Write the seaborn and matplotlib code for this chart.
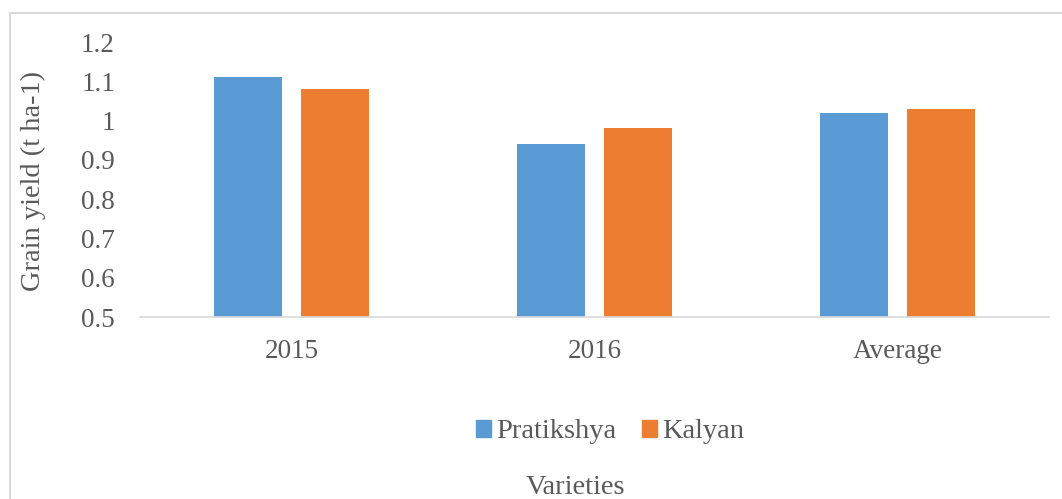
import matplotlib
matplotlib.use("Agg")
import matplotlib.pyplot as plt
import matplotlib.patches as mpatches
import pandas as pd
import seaborn as sns

# data
years = ["2015", "2016", "Average"]
pratikshya = [1.11, 0.94, 1.02]
kalyan = [1.08, 0.98, 1.03]
varieties = ["Pratikshya", "Kalyan"]
colors = ["#5B9BD5", "#ED7D31"]

df = pd.DataFrame({
    "year": years * 2,
    "variety": [varieties[0]] * 3 + [varieties[1]] * 3,
    "yield": pratikshya + kalyan,
})

sns.set_style("white")
plt.rcParams["font.family"] = ["Liberation Serif", "DejaVu Serif"]
text_col = "#595959"

fig = plt.figure(figsize=(10.62, 4.99), dpi=100)
ax = fig.add_axes([0.1318, 0.3647, 0.8560, 0.5511])

sns.barplot(data=df, x="year", y="yield", hue="variety", order=years,
            hue_order=varieties, palette=colors, saturation=1,
            width=0.574, gap=0.22, ax=ax, legend=False, edgecolor="none")

ax.set_ylim(0.5, 1.2)
ax.set_yticks([0.5, 0.6, 0.7, 0.8, 0.9, 1.0, 1.1, 1.2])
ax.set_yticklabels(["0.5", "0.6", "0.7", "0.8", "0.9", "1", "1.1", "1.2"])
ax.tick_params(axis="both", length=0, labelsize=19.5, colors=text_col)
ax.tick_params(axis="x", pad=16)
ax.tick_params(axis="y", pad=18)
ax.set_xlabel("")
ax.set_ylabel("")
fig.text(33 / 1062, 1 - 181 / 499, "Grain yield (t ha-1)", rotation=90,
         ha="center", va="center", fontsize=20.5, color=text_col)

for side in ["top", "right", "left"]:
    ax.spines[side].set_visible(False)
ax.spines["bottom"].set_color("#d9d9d9")
ax.spines["bottom"].set_linewidth(1.2)

# legend and axis title under the plot
handles = [mpatches.Patch(color=c, label=v) for c, v in zip(colors, varieties)]
fig.legend(handles=handles, loc="center", bbox_to_anchor=(610 / 1062, 1 - 432 / 499),
           ncol=2, frameon=False, fontsize=20.5, handlelength=0.53, handleheight=0.53,
           handletextpad=0.18, columnspacing=0.88, labelcolor=text_col,
           borderpad=0)
fig.text(575 / 1062, 1 - 487 / 499, "Varieties", ha="center", va="center",
         fontsize=20.5, color=text_col)

# chart border
border = mpatches.Rectangle((10 / 1062, -0.05), 1.1, 1 - 13 / 499 + 0.05,
                            transform=fig.transFigure, fill=False,
                            edgecolor="#d9d9d9", linewidth=1.5, clip_on=False)
fig.patches.append(border)

fig.savefig("out.png", dpi=100)
